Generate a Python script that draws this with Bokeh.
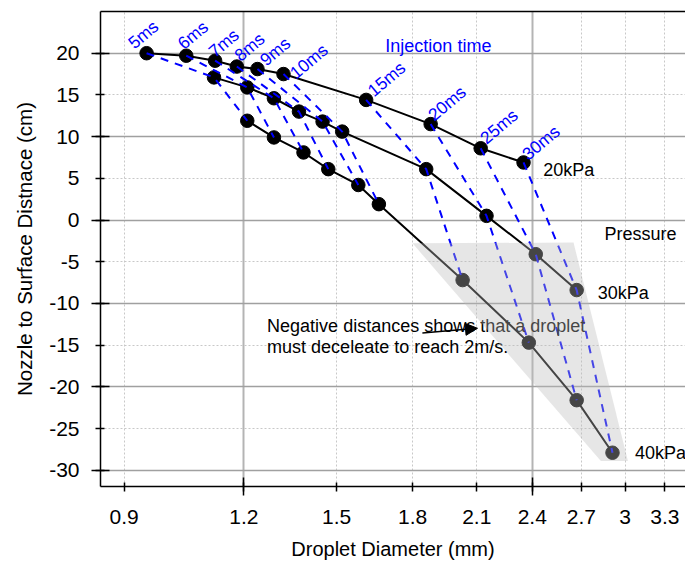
from bokeh.plotting import figure
from bokeh.models import FixedTicker, LogAxis, Range1d, Arrow, NormalHead, CustomJSTickFormatter
from bokeh.core.properties import value
from bokeh.embed import file_html
from bokeh.resources import INLINE

# ---- data ----
times = ["5ms", "6ms", "7ms", "8ms", "9ms", "10ms", "15ms", "20ms", "25ms", "30ms"]
diam_20 = [0.95, 1.045, 1.12, 1.18, 1.24, 1.32, 1.61, 1.88, 2.12, 2.35]
dist_20 = [20.0, 19.7, 19.1, 18.4, 18.1, 17.5, 14.4, 11.5, 8.6, 6.9]
diam_30 = [1.117, 1.21, 1.29, 1.37, 1.45, 1.52, 1.86, 2.15, 2.42, 2.67]
dist_30 = [17.1, 15.9, 14.6, 13.0, 11.8, 10.6, 6.1, 0.5, -4.1, -8.4]
diam_40 = [1.21, 1.29, 1.385, 1.47, 1.58, 1.66, 2.03, 2.38, 2.67, 2.91]
dist_40 = [11.9, 9.9, 8.1, 6.1, 4.2, 1.9, -7.2, -14.7, -21.6, -27.9]
pressures = ["20kPa", "30kPa", "40kPa"]
pressure_label_x = [2.464, 2.809, 3.071]
pressure_label_y = [6.0, -8.75, -27.9]
region_x = [1.80, 2.65, 3.02, 2.83]
region_y = [-2.8, -2.7, -28.9, -28.9]
x_ticks = [0.9, 1.2, 1.5, 1.8, 2.1, 2.4, 2.7, 3.0, 3.3]
y_ticks = [-30, -25, -20, -15, -10, -5, 0, 5, 10, 15, 20]
note_lines = ["Negative distances shows that a droplet", "must deceleate to reach 2m/s."]

FONT = "Liberation Sans"

p = figure(width=685, height=566, x_axis_type="log",
           x_range=Range1d(0.8504, 3.468), y_range=Range1d(-31.95, 25.0),
           output_backend="svg", toolbar_location=None,
           min_border_left=100, min_border_right=0, min_border_top=11, min_border_bottom=80)
p.outline_line_color = None
p.background_fill_color = "white"

major10 = [t for t in y_ticks if t % 10 == 0]
odd5 = [t for t in y_ticks if t % 10 != 0]
xmaj = [1.2, 2.4]
xoth = [t for t in x_ticks if t not in xmaj]

p.xaxis.ticker = FixedTicker(ticks=x_ticks, minor_ticks=xmaj)
p.yaxis.ticker = FixedTicker(ticks=y_ticks, minor_ticks=major10)
p.xaxis.formatter = CustomJSTickFormatter(code="return tick.toString()")
p.yaxis.formatter = CustomJSTickFormatter(code="return tick.toString()")

p.xgrid.ticker = FixedTicker(ticks=xoth, minor_ticks=xmaj)
p.ygrid.ticker = FixedTicker(ticks=odd5, minor_ticks=major10)
for g in (p.xgrid, p.ygrid):
    g.grid_line_color = "#c8c8c8"
    g.grid_line_dash = "2 2"
    g.grid_line_width = 1
    g.minor_grid_line_color = "#a0a0a0"
    g.minor_grid_line_width = 1.3
p.xgrid.minor_grid_line_color = "#b4b4b4"
p.xgrid.minor_grid_line_width = 2

for ax in (p.xaxis, p.yaxis):
    ax.axis_line_color = "black"
    ax.axis_line_width = 1.5
    ax.major_tick_line_color = "black"
    ax.major_tick_line_width = 1.5
    ax.minor_tick_line_color = "black"
    ax.minor_tick_line_width = 1.5
    ax.major_tick_in = 4
    ax.major_tick_out = 5
    ax.minor_tick_in = 9
    ax.minor_tick_out = 9
    ax.major_label_text_font = FONT
    ax.major_label_text_font_size = "21px"
    ax.major_label_text_color = "black"
    ax.axis_label_text_font = FONT
    ax.axis_label_text_font_style = "normal"
    ax.axis_label_text_color = "black"

p.xaxis.axis_label = "Droplet Diameter (mm)"
p.yaxis.axis_label = "Nozzle to Surface Distnace (cm)"
p.xaxis.axis_label_text_font_size = "20px"
p.yaxis.axis_label_text_font_size = "20.5px"
p.xaxis.major_label_standoff = 14
p.xaxis.axis_label_standoff = 11
p.yaxis.major_label_standoff = 12
p.yaxis.axis_label_standoff = 10

top = LogAxis(ticker=FixedTicker(ticks=[]), axis_line_color="black", axis_line_width=1.5,
              major_tick_in=0, major_tick_out=0, minor_tick_in=0, minor_tick_out=0,
              major_label_text_font_size="0px")
p.add_layout(top, "above")

# series lines and markers
for xs, ys in ((diam_20, dist_20), (diam_30, dist_30), (diam_40, dist_40)):
    p.line(xs, ys, line_color="black", line_width=2)
for xs, ys in ((diam_20, dist_20), (diam_30, dist_30), (diam_40, dist_40)):
    p.scatter(xs, ys, size=13.5, marker="circle", fill_color="black", line_color="black")

# injection-time iso-lines
iso_x = [[a, b, c] for a, b, c in zip(diam_20, diam_30, diam_40)]
iso_y = [[a, b, c] for a, b, c in zip(dist_20, dist_30, dist_40)]
p.multi_line(iso_x, iso_y, line_color="#0000ff", line_width=2, line_dash="8 7")

# note (under the shaded region)
p.text(x=[1.269, 1.269], y=[-12.68, -15.28], text=note_lines,
       text_font=value(FONT), text_font_size="18px", text_color="black",
       text_align="left", text_baseline="middle")

# shaded region
p.patch(region_x, region_y, fill_color="#bbbbbb", fill_alpha=0.37, line_color=None)

# pressure labels
p.text(x=pressure_label_x, y=pressure_label_y, text=pressures,
       text_font=value(FONT), text_font_size="18px", text_color="black",
       text_align="left", text_baseline="middle")
p.text(x=[2.855], y=[-1.67], text=["Pressure"],
       text_font=value(FONT), text_font_size="18px", text_color="black",
       text_align="left", text_baseline="middle")
p.text(x=[1.686], y=[20.92], text=["Injection time"],
       text_font=value(FONT), text_font_size="18px", text_color="#0000ff",
       text_align="left", text_baseline="middle")

# time labels
x_off = [-16, -6, -4, 0, 5, 9, 4, 0, 2, 1]
y_off = [-8, -10, -7, -9, -7, 1, -7, -7, -8, -6]
p.text(x=diam_20, y=dist_20, text=times, angle=40, angle_units="deg",
       x_offset=x_off, y_offset=y_off,
       text_font=value(FONT), text_font_size="17.5px", text_color="#0000ff",
       text_align="left", text_baseline="alphabetic")

# arrow
p.add_layout(Arrow(end=NormalHead(size=12, fill_color="black", line_color="black"),
                   x_start=1.843, y_start=-13.55, x_end=2.104, y_end=-12.98,
                   line_color="black", line_width=1.5))

open("out.html", "w").write(file_html(p, INLINE))
